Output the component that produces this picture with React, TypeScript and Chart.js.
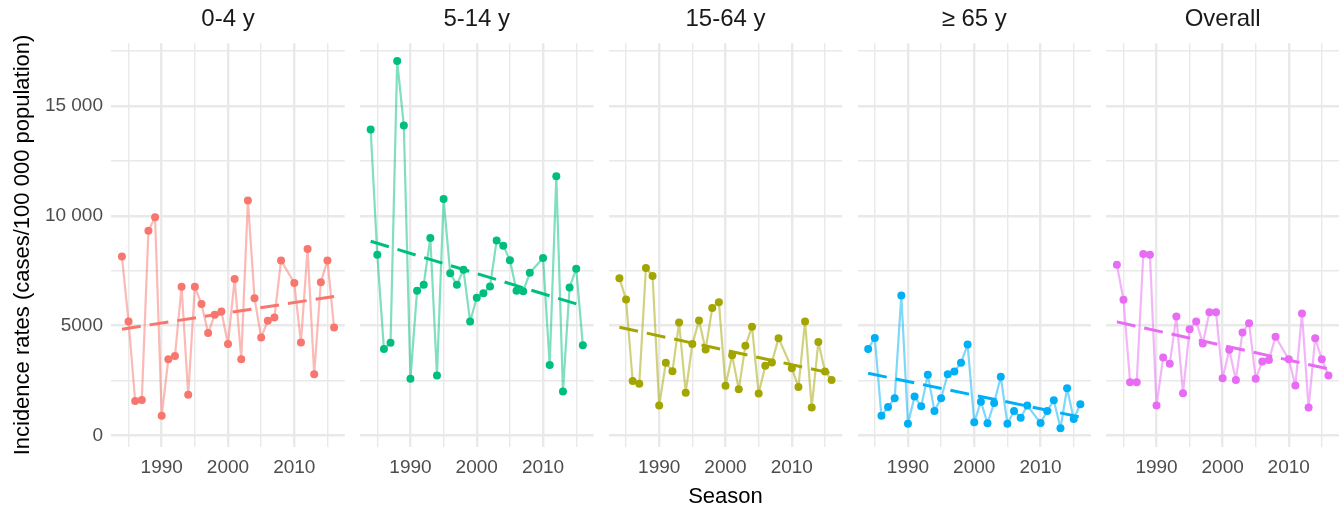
import React, { useEffect, useRef } from "react";
import { Chart, registerables } from "chart.js";

Chart.register(...registerables);

// ---------- data ----------
const seasons = [
  1984, 1985, 1986, 1987, 1988, 1989, 1990, 1991, 1992, 1993, 1994, 1995, 1996,
  1997, 1998, 1999, 2000, 2001, 2002, 2003, 2004, 2005, 2006, 2007, 2008,
  2010, 2011, 2012, 2013, 2014, 2015, 2016,
];

const panelTitles = ["0-4 y", "5-14 y", "15-64 y", "≥ 65 y", "Overall"];
const panelColors = ["#F8766D", "#00BF7D", "#A3A500", "#00B0F6", "#E76BF3"];

const rates0to4 = [
  8150, 5190, 1570, 1620, 9320, 9930, 900, 3470, 3620, 6770, 1850, 6770, 5980,
  4660, 5490, 5640, 4160, 7120, 3470, 10690, 6250, 4460, 5220, 5370, 7970,
  6940, 4230, 8490, 2790, 6980, 7970, 4910,
];
const rates5to14 = [
  13930, 8230, 3940, 4220, 17040, 14110, 2580, 6590, 6860, 8990, 2730, 10760,
  7380, 6860, 7540, 5190, 6270, 6470, 6780, 8870, 8640, 7980, 6590, 6560, 7410,
  8080, 3210, 11800, 2000, 6740, 7590, 4110,
];
const rates15to64 = [
  7160, 6190, 2480, 2360, 7620, 7260, 1360, 3310, 2920, 5140, 1950, 4160, 5230,
  3910, 5800, 6070, 2260, 3650, 2100, 4080, 4950, 1910, 3170, 3320, 4430,
  3060, 2210, 5190, 1270, 4250, 2910, 2530,
];
const rates65plus = [
  3940, 4440, 900, 1300, 1690, 6370, 540, 1770, 1330, 2760, 1120, 1690, 2790,
  2910, 3310, 4140, 600, 1540, 560, 1480, 2670, 540, 1120, 810, 1360,
  570, 1120, 1600, 330, 2150, 750, 1420,
];
const ratesOverall = [
  7770, 6180, 2420, 2420, 8260, 8230, 1360, 3550, 3260, 5420, 1920, 4840, 5190,
  4190, 5610, 5610, 2610, 3900, 2530, 4690, 5110, 2580, 3370, 3440, 4490,
  3470, 2270, 5550, 1270, 4430, 3470, 2730,
];
const panelSeries = [rates0to4, rates5to14, rates15to64, rates65plus, ratesOverall];

// linear trend (read at first and last season)
const trendYears = [1984, 2016];
const trendStart = [4840, 8840, 4930, 2830, 5170];
const trendEnd = [6330, 5900, 2830, 840, 3030];

const xTickValues = [1990, 2000, 2010];
const xGridValues = [1985, 1990, 1995, 2000, 2005, 2010, 2015];
const yTickValues = [0, 5000, 10000, 15000];
const yTickLabels = ["0", "5000", "10 000", "15 000"];
const yGridValues = [0, 2500, 5000, 7500, 10000, 12500, 15000, 17500];

const xTitle = "Season";
const yTitle = "Incidence rates (cases/100 000 population)";

const xMin = 1982.4;
const xMax = 2017.6;
const yMin = -510;
const yMax = 17850;

// ---------- layout ----------
const W = 1343;
const H = 511;
const plotBottom = 446.7;
const panelLeft0 = 111.3;
const panelStep = 248.75;
const panelWidth = 233.4;

const FONT = "'Liberation Sans', Arial, Helvetica, sans-serif";

function withAlpha(hex: string, a: number) {
  const n = parseInt(hex.slice(1), 16);
  return `rgba(${(n >> 16) & 255}, ${(n >> 8) & 255}, ${n & 255}, ${a})`;
}

function makeConfig(i: number): any {
  const color = panelColors[i];
  const left = panelLeft0 + i * panelStep;
  const right = W - (left + panelWidth);
  const isFirst = i === 0;
  const pts = seasons.map((x, k) => ({ x, y: panelSeries[i][k] }));
  const trend = trendYears.map((x, k) => ({ x, y: k === 0 ? trendStart[i] : trendEnd[i] }));

  return {
    type: "line",
    data: {
      datasets: [
        {
          data: trend,
          borderColor: color,
          borderWidth: 3,
          borderDash: [19, 9],
          pointRadius: 0,
          fill: false,
        },
        {
          data: pts,
          showLine: false,
          pointRadius: 4,
          pointBackgroundColor: color,
          pointBorderWidth: 0,
          borderColor: color,
        },
        {
          data: pts,
          borderColor: withAlpha(color, 0.5),
          borderWidth: 2.2,
          borderJoinStyle: "round",
          pointRadius: 0,
          fill: false,
        },
      ],
    },
    options: {
      responsive: false,
      animation: false,
      events: [],
      layout: { padding: { left: isFirst ? 0 : left, right, top: 0, bottom: 0 } },
      plugins: {
        legend: { display: false },
        tooltip: { enabled: false },
        title: {
          display: true,
          text: panelTitles[i],
          fullSize: false,
          color: "#1a1a1a",
          font: { size: 24, weight: "normal", family: FONT },
          padding: { top: 4.6, bottom: 9.9 },
        },
      },
      scales: {
        x: {
          type: "linear",
          min: xMin,
          max: xMax,
          afterBuildTicks: (s: any) => {
            s.ticks = xGridValues.map((v) => ({ value: v }));
          },
          afterFit: (s: any) => {
            s.height = H - plotBottom;
          },
          grid: {
            color: "#e9e9e9",
            lineWidth: (c: any) => (c.tick && xTickValues.includes(c.tick.value) ? 2.4 : 1.4),
            drawTicks: false,
          },
          border: { display: false },
          ticks: {
            autoSkip: false,
            maxRotation: 0,
            padding: 9.6,
            color: "#4d4d4d",
            font: { size: 19, family: FONT },
            callback: (v: any) => (xTickValues.includes(v) ? String(v) : ""),
          },
          title: {
            display: i === 2,
            text: xTitle,
            color: "#000",
            font: { size: 22, family: FONT },
            padding: { top: 0, bottom: 0.8 },
          },
        },
        y: {
          type: "linear",
          min: yMin,
          max: yMax,
          afterBuildTicks: (s: any) => {
            s.ticks = yGridValues.map((v) => ({ value: v }));
          },
          afterFit: (s: any) => {
            s.width = isFirst ? panelLeft0 : 0;
          },
          grid: {
            color: "#e9e9e9",
            lineWidth: (c: any) => (c.tick && yTickValues.includes(c.tick.value) ? 2.4 : 1.4),
            drawTicks: false,
          },
          border: { display: false },
          ticks: {
            display: isFirst,
            autoSkip: false,
            padding: 8.3,
            color: "#4d4d4d",
            font: { size: 19, family: FONT },
            callback: (v: any) => {
              const k = yTickValues.indexOf(v);
              return k >= 0 ? yTickLabels[k] : "";
            },
          },
          title: {
            display: isFirst,
            text: yTitle,
            color: "#000",
            font: { size: 22, family: FONT },
            padding: { top: 10, bottom: 0 },
          },
        },
      },
    },
  };
}

export default function App() {
  const refs = useRef<(HTMLCanvasElement | null)[]>([]);

  useEffect(() => {
    document.body.style.margin = "0";
    Chart.defaults.font.family = FONT;
    const charts = refs.current.map((c, i) => (c ? new Chart(c, makeConfig(i)) : null));
    return () => {
      charts.forEach((ch) => ch && ch.destroy());
    };
  }, []);

  return (
    <div style={{ position: "relative", width: W, height: H, background: "#fff" }}>
      {panelTitles.map((t, i) => (
        <canvas
          key={t}
          ref={(el) => {
            refs.current[i] = el;
          }}
          width={W}
          height={H}
          style={{ position: "absolute", left: 0, top: 0, width: W, height: H }}
        />
      ))}
    </div>
  );
}
